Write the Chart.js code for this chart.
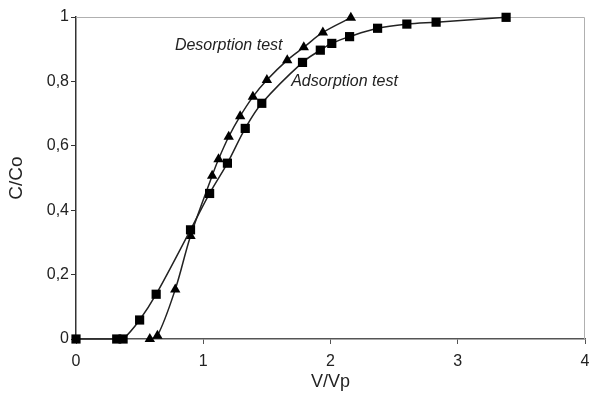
<!DOCTYPE html>
<html>
<head>
<meta charset="utf-8">
<script src="https://cdn.jsdelivr.net/npm/chart.js@4.4.1/dist/chart.umd.min.js"></script>
<style>
  html, body { margin: 0; padding: 0; background: #fff; }
  #wrap { width: 589px; height: 393px; }
</style>
</head>
<body>
<div id="wrap"><canvas id="chart" width="589" height="393"></canvas></div>
<script>
// adsorption test (squares)
const adsX = [0, 0.32, 0.37, 0.50, 0.63, 0.90, 1.05, 1.19, 1.33, 1.46, 1.78, 1.92, 2.01, 2.15, 2.37, 2.60, 2.83, 3.38]
const adsY = [0, 0, 0, 0.059, 0.139, 0.339, 0.452, 0.546, 0.654, 0.732, 0.859, 0.897, 0.918, 0.939, 0.965, 0.978, 0.984, 0.999]

// desorption test (triangles)
const desX = [0.58, 0.64, 0.78, 0.90, 1.07, 1.12, 1.20, 1.29, 1.39, 1.50, 1.66, 1.79, 1.94, 2.16]
const desY = [0, 0.01, 0.154, 0.32, 0.507, 0.558, 0.628, 0.692, 0.752, 0.804, 0.866, 0.906, 0.952, 0.998]

const yTicks = [0, 0.2, 0.4, 0.6, 0.8, 1]
const xTicks = [0, 1, 2, 3, 4]

// text labels, placed in data units
const notes = [
    {text: 'Desorption test', x: 1.20, y: 0.91},
    {text: 'Adsorption test', x: 2.11, y: 0.80}
]

function toPoints(xs, ys){
    let pts = []
    for (let i = 0; i < xs.length; i++) {
        pts.push({x: xs[i], y: ys[i]})
    }
    return pts
}

const fontName = '"Liberation Sans", Arial, sans-serif'
const ink = '#222'

const framePlugin = {
    id: 'frame',
    beforeDatasetsDraw(chart){
        const a = chart.chartArea
        const ctx = chart.ctx
        ctx.save()
        ctx.strokeStyle = '#b0b0b0'
        ctx.lineWidth = 1
        ctx.beginPath()
        ctx.moveTo(a.left, a.top + 0.5)
        ctx.lineTo(a.right - 0.5, a.top + 0.5)
        ctx.lineTo(a.right - 0.5, a.bottom)
        ctx.stroke()
        ctx.restore()
    },
    afterDraw(chart){
        const ctx = chart.ctx
        ctx.save()
        ctx.font = 'italic 16px ' + fontName
        ctx.fillStyle = ink
        ctx.textAlign = 'center'
        ctx.textBaseline = 'middle'
        for (let i = 0; i < notes.length; i++) {
            let px = chart.scales.x.getPixelForValue(notes[i].x)
            let py = chart.scales.y.getPixelForValue(notes[i].y)
            ctx.fillText(notes[i].text, px, py)
        }
        ctx.restore()
    }
}

const ctx = document.getElementById('chart').getContext('2d')
new Chart(ctx, {
    type: 'scatter',
    data: {
        datasets: [
            {
                label: 'Adsorption test',
                data: toPoints(adsX, adsY),
                showLine: true,
                clip: false,
                tension: 0.35,
                borderColor: ink,
                borderWidth: 1.5,
                backgroundColor: '#000',
                pointStyle: 'rect',
                pointRadius: 6.5,
                pointBorderWidth: 0
            },
            {
                label: 'Desorption test',
                data: toPoints(desX, desY),
                showLine: true,
                clip: false,
                tension: 0.35,
                borderColor: ink,
                borderWidth: 1.5,
                backgroundColor: '#000',
                pointStyle: 'triangle',
                pointRadius: 6,
                pointBorderWidth: 0
            }
        ]
    },
    options: {
        responsive: false,
        animation: false,
        layout: { autoPadding: false, padding: { top: 17, right: 4, left: 0, bottom: 0 } },
        plugins: {
            legend: { display: false },
            tooltip: { enabled: false }
        },
        scales: {
            x: {
                type: 'linear',
                min: 0,
                max: 4,
                afterBuildTicks(scale){ scale.ticks = xTicks.map(v => ({value: v})) },
                afterFit(scale){
                    scale.height = 54
                    scale.paddingRight = 0
                },
                ticks: { color: ink, font: { family: fontName, size: 16 }, padding: 8 },
                grid: { drawOnChartArea: false, drawTicks: true, tickLength: 5, color: '#555' },
                border: { color: '#555', width: 1.5 },
                title: { display: true, text: 'V/Vp', color: ink, font: { family: fontName, size: 18 }, padding: { top: 2, bottom: 0 } }
            },
            y: {
                type: 'linear',
                min: 0,
                max: 1,
                afterBuildTicks(scale){ scale.ticks = yTicks.map(v => ({value: v})) },
                afterFit(scale){ scale.width = 76 },
                ticks: {
                    color: ink,
                    font: { family: fontName, size: 16 },
                    padding: 2,
                    callback: v => String(Math.round(v * 10) / 10).replace('.', ',')
                },
                grid: { drawOnChartArea: false, drawTicks: true, tickLength: 5, color: '#333' },
                border: { color: '#333', width: 1.5 },
                title: { display: true, text: 'C/Co', color: ink, font: { family: fontName, size: 19 }, padding: { top: 5, bottom: 10 } }
            }
        }
    },
    plugins: [framePlugin]
})
</script>
</body>
</html>
